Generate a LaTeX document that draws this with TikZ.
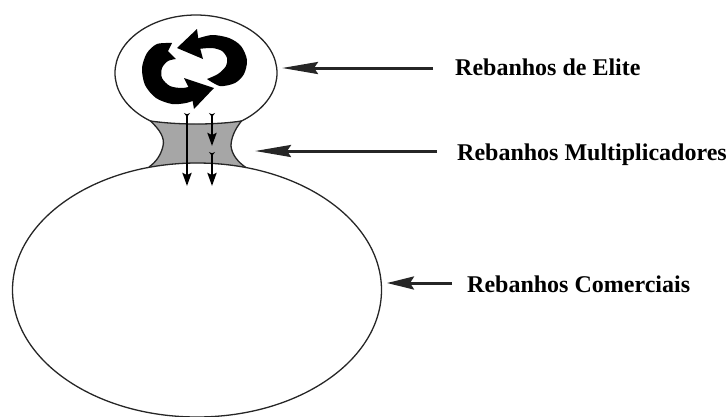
\documentclass[tikz,border=0pt]{standalone}
\usepackage{fontspec}
\setmainfont{Liberation Serif}
\usetikzlibrary{arrows.meta}
\definecolor{inkline}{HTML}{262626}
\definecolor{neckgray}{HTML}{A6A6A6}
\begin{document}
\begin{tikzpicture}[x=1pt,y=-1pt,
  outline/.style={draw=inkline, line width=1.3pt},
  neckfill/.style={fill=neckgray},
  symbolfill/.style={fill=black},
  flowarrow/.style={draw=black, line width=2.4pt,
    arrows={Stealth[reversed,length=4pt,width=6pt]-Stealth[length=13pt,width=9pt,inset=2pt]}},
  labelarrow/.style={draw=inkline, line width=3pt,
    -{Stealth[length=36pt,width=12pt,inset=4pt]}},
  shortlabelarrow/.style={draw=inkline, line width=3pt,
    -{Stealth[length=27pt,width=13pt,inset=4pt]}},
  caption/.style={anchor=base west, inner sep=0pt,
    font=\fontsize{24}{28}\selectfont\bfseries}]
\useasboundingbox (0,0) rectangle (728,416);

% elite herd (head)
\draw[outline] (196,73) ellipse [x radius=81pt, y radius=58pt];

% multiplier herd (neck)
\fill[neckfill] (150.5,121)
  .. controls (160,130) and (165,138) .. (163,146)
  .. controls (161,155) and (156,162) .. (149,167)
  .. controls (180,162) and (215,162) .. (246,167.6)
  .. controls (238,162) and (232,155) .. (231,146)
  .. controls (231,138) and (235,129) .. (241.5,121)
  .. controls (215,125) and (178,125) .. cycle;
\draw[outline] (149,167)
  .. controls (156,162) and (161,155) .. (163,146)
  .. controls (165,138) and (160,130) .. (150.5,121)
  .. controls (178,125) and (215,125) .. (241.5,121)
  .. controls (235,129) and (231,138) .. (231,146)
  .. controls (232,155) and (238,162) .. (246,167.6);

% commercial herd (body)
\draw[outline] (197,290) ellipse [x radius=184.5pt, y radius=127pt];

% gene flow downwards
\coordinate (dA1) at (187,113);
\coordinate (dA2) at (187,186);
\coordinate (dB1) at (212,113);
\coordinate (dB2) at (212,146);
\coordinate (dB3) at (212,152);
\coordinate (dB4) at (212,186);
\draw[flowarrow] (dA1) -- (dA2);
\draw[flowarrow] (dB1) -- (dB2);
\draw[flowarrow] (dB3) -- (dB4);

% cycling arrows inside the elite herd
\fill[symbolfill] (172,43)
  -- plot[smooth] coordinates {(172,43) (157,44) (147,53) (142,68) (145,85) (156,98) (172,104) (186,103) (195,100)}
  -- plot[smooth] coordinates {(193,86) (182,88) (170,86) (162,78) (162,68) (168,61) (176,59)}
  -- (168,51) -- cycle;
\fill[symbolfill] (184,78) -- (214,88) -- (194,109) -- (191,92) -- cycle;
\fill[symbolfill] (196,39)
  -- plot[smooth] coordinates {(196,39) (212,35) (229,38) (241,46) (247,60) (244,74) (235,83) (220,86) (207,79)}
  -- plot[smooth] coordinates {(207,79) (218,74) (226,66) (227,58) (222,51) (212,48) (198,49)}
  -- cycle;
\fill[symbolfill] (197,29) -- (177,48) -- (203,59) -- (199,44) -- cycle;

% captions and pointers
\node[caption] (elite) at (455,75) {Rebanhos de Elite};
\node[caption] (mult) at (457,160) {Rebanhos Multiplicadores};
\node[caption] (com) at (467,292) {Rebanhos Comerciais};

\coordinate (eliteTail) at (433,68);
\coordinate (eliteTip) at (282,68);
\coordinate (multTail) at (437,151);
\coordinate (multTip) at (255,151);
\coordinate (comTail) at (452,283);
\coordinate (comTip) at (387,283);
\draw[labelarrow] (eliteTail) -- (eliteTip);
\draw[labelarrow] (multTail) -- (multTip);
\draw[shortlabelarrow] (comTail) -- (comTip);
\end{tikzpicture}
\end{document}
